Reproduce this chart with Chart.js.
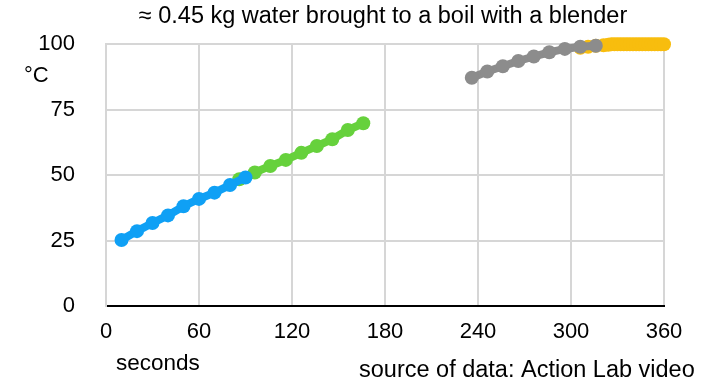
<!DOCTYPE html>
<html>
<head>
<meta charset="utf-8">
<script src="https://cdn.jsdelivr.net/npm/chart.js@4"></script>
<style>
  html, body { margin: 0; padding: 0; background: #fff; }
  #wrap { width: 724px; height: 390px; }
</style>
</head>
<body>
<div id="wrap"><canvas id="chart-boil"></canvas></div>
<script>
'use strict';
// [ data ] start
var blueX = [10, 20, 30, 40, 50, 60, 70, 80, 90];
var blueY = [25.2, 28.6, 31.7, 34.6, 38.1, 40.9, 43.3, 46.2, 49.1];
var greenX = [86, 96, 106, 116, 126, 136, 146, 156, 166];
var greenY = [48.4, 51.0, 53.5, 55.8, 58.5, 61.1, 63.7, 67.2, 69.8];
var grayX = [236, 246, 256, 266, 276, 286, 296, 306, 316];
var grayY = [87.2, 89.6, 91.6, 93.6, 95.3, 96.9, 98.2, 99.0, 99.4];
var yellowX = [306, 311, 316, 321, 324, 326, 328, 330, 332, 334, 336, 338, 340, 342, 344, 346, 348, 350, 352, 354, 356, 358, 360];
var yellowY = [98.6, 99.0, 99.4, 99.6, 99.8, 100, 100, 100, 100, 100, 100, 100, 100, 100, 100, 100, 100, 100, 100, 100, 100, 100, 100];
var xTicks = [0, 60, 120, 180, 240, 300, 360];
var yTicks = [0, 25, 50, 75, 100];
// [ data ] end

function pts(xs, ys) {
    return xs.map(function(x, i) { return { x: x, y: ys[i] }; });
}
function series(label, xs, ys, color) {
    return {
        label: label,
        data: pts(xs, ys),
        showLine: true,
        clip: false,
        borderColor: color,
        backgroundColor: color,
        borderWidth: 8,
        pointRadius: 7,
        pointBorderWidth: 0,
        pointHoverRadius: 7
    };
}

var font = 'Liberation Sans, Arial, Helvetica, sans-serif';

// [ extra texts ] start
var textPlugin = {
    id: 'texts',
    afterDraw: function(chart) {
        var ctx = chart.ctx;
        var area = chart.chartArea;
        ctx.save();
        ctx.fillStyle = '#000';
        ctx.textBaseline = 'middle';
        ctx.font = '23.5px ' + font;
        ctx.textAlign = 'center';
        ctx.fillText('\u2248 0.45 kg water brought to a boil with a blender', (area.left + area.right) / 2 - 2, 17);
        ctx.textAlign = 'left';
        ctx.font = '22px ' + font;
        ctx.fillText('\u00b0C', 24, 76);
        ctx.font = '22.5px ' + font;
        ctx.fillText('seconds', 116, 364);
        ctx.font = '23.5px ' + font;
        ctx.fillText('source of data: Action Lab video', 359, 371);
        ctx.restore();
    }
};
// [ extra texts ] end

var ctx = document.getElementById('chart-boil').getContext('2d');
var boilChart = new Chart(ctx, {
    type: 'scatter',
    data: {
        datasets: [
            series('blue', blueX, blueY, '#0fa0f5'),
            series('green', greenX, greenY, '#66d13c'),
            series('gray', grayX, grayY, '#8c8c8c'),
            series('yellow', yellowX, yellowY, '#f8bd0e')
        ]
    },
    options: {
        responsive: true,
        maintainAspectRatio: false,
        animation: false,
        layout: { autoPadding: false, padding: { left: 0, right: 60, top: 41, bottom: 0 } },
        plugins: {
            legend: { display: false },
            tooltip: { enabled: false },
            title: { display: false }
        },
        scales: {
            x: {
                type: 'linear',
                min: 0,
                max: 360,
                afterBuildTicks: function(axis) {
                    axis.ticks = xTicks.map(function(v) { return { value: v }; });
                },
                afterFit: function(axis) { axis.height = 84; },
                grid: { color: '#d6d6d6', lineWidth: 2, drawTicks: false },
                border: { color: '#000', width: 2 },
                ticks: { color: '#000', font: { family: font, size: 22 }, padding: 13, maxRotation: 0 }
            },
            y: {
                min: 0,
                max: 100,
                afterBuildTicks: function(axis) {
                    axis.ticks = yTicks.map(function(v) { return { value: v }; });
                },
                afterFit: function(axis) { axis.width = 106; },
                grid: {
                    color: function(c) { return c.tick && c.tick.value === 0 ? 'rgba(0,0,0,0)' : '#d6d6d6'; },
                    lineWidth: 2,
                    drawTicks: false
                },
                border: { color: '#d6d6d6', width: 2 },
                ticks: { color: '#000', font: { family: font, size: 22 }, padding: 31 }
            }
        }
    },
    plugins: [textPlugin]
});
</script>
</body>
</html>
